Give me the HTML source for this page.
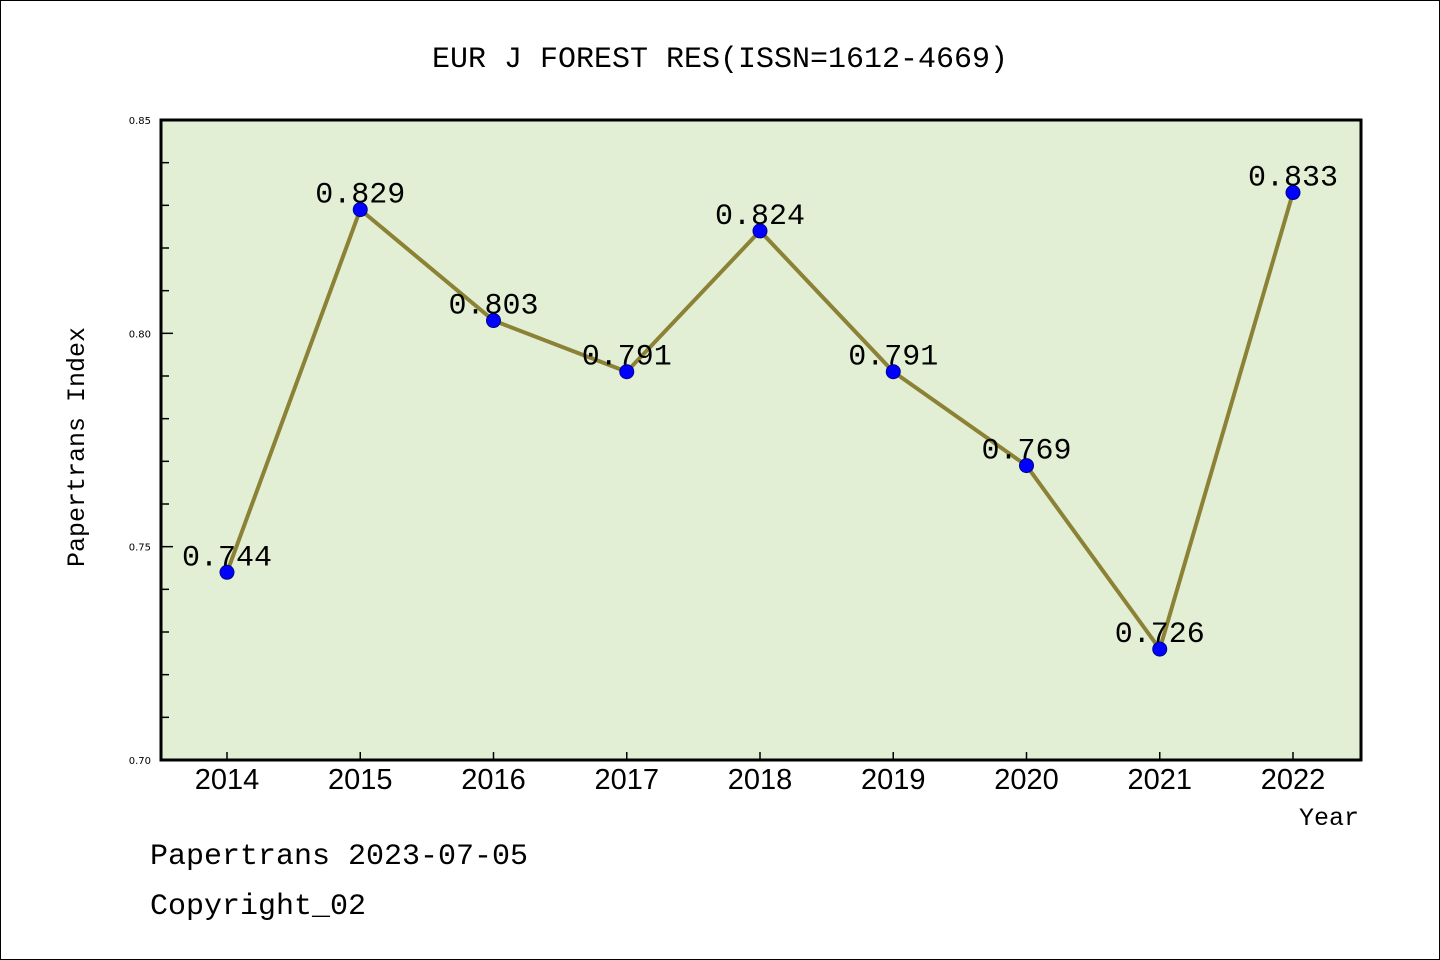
<!DOCTYPE html>
<html><head><meta charset="utf-8"><style>
html,body{margin:0;padding:0;background:#fff}
svg{display:block}
</style></head><body>
<svg width="1440" height="960" xmlns="http://www.w3.org/2000/svg">
<rect x="0.5" y="0.5" width="1439" height="959" fill="#fff" stroke="#000"/>
<text x="720" y="67" text-anchor="middle" font-family="Liberation Mono, WenQuanYi Zen Hei, monospace" font-size="30">EUR J FOREST RES(ISSN=1612-4669)</text>
<rect x="161" y="120" width="1200" height="640" fill="#e2efd5"/>
<g id="axes"></g>
<g id="marks"></g>
<rect x="161" y="120" width="1200" height="640" fill="none" stroke="#000" stroke-width="3"/>
<text transform="translate(84,447) rotate(-90)" text-anchor="middle" font-family="Liberation Mono, monospace" font-size="25">Papertrans Index</text>
<text x="1359" y="825" text-anchor="end" font-family="Liberation Mono, monospace" font-size="25">Year</text>
<text x="150" y="864" font-family="Liberation Mono, monospace" font-size="30">Papertrans 2023-07-05</text>
<text x="150" y="914" font-family="Liberation Mono, monospace" font-size="30">Copyright_02</text>
</svg>
<script>
const years = ["2014","2015","2016","2017","2018","2019","2020","2021","2022"];
const values = [0.744,0.829,0.803,0.791,0.824,0.791,0.769,0.726,0.833];
const yTickLabels = ["0.70","0.75","0.80","0.85"];
const NS="http://www.w3.org/2000/svg";
const yMin=0.70,yMax=0.85,plotTop=120,plotBot=760;
const xPos=i=>227+i*133.25;
const yPos=v=>plotBot-(v-yMin)/(yMax-yMin)*(plotBot-plotTop);
function mk(tag,attrs,parent){const e=document.createElementNS(NS,tag);for(const k in attrs)e.setAttribute(k,attrs[k]);parent.appendChild(e);return e;}
const axes=document.getElementById('axes'),marks=document.getElementById('marks');
for(let k=0;k<=15;k++){const v=yMin+k*0.01;const y=yPos(v);const major=k%5===0;
 const t=mk('line',{x1:161,x2:major?173:169,y1:y,y2:y,stroke:'#000','stroke-width':1.5},axes);
 
 }
yTickLabels.forEach(s=>{const y=yPos(parseFloat(s));
 const t=mk('text',{x:151,y:y+4,'text-anchor':'end','font-family':'DejaVu Sans, sans-serif','font-size':10},axes);t.textContent=s;
 
 });
years.forEach((yr,i)=>{const x=xPos(i);
 const t=mk('line',{x1:x,x2:x,y1:plotBot,y2:plotBot-8,stroke:'#000','stroke-width':1.5},axes);
 
 
 const l=mk('text',{x:x,y:789,'text-anchor':'middle','font-family':'Liberation Sans, sans-serif','font-size':29},axes);l.textContent=yr;
 
 });
const pl=mk('polyline',{points:values.map((v,i)=>xPos(i)+','+yPos(v)).join(' '),fill:'none',stroke:'#8b8235','stroke-width':4},marks);


values.forEach((v,i)=>{const x=xPos(i),y=yPos(v);
 const c=mk('circle',{cx:x,cy:y,r:7,fill:'#0000ff',stroke:'#00008b','stroke-width':1},marks);
 
 
 const t=mk('text',{x:x,y:y-7,'text-anchor':'middle','font-family':'Liberation Mono, monospace','font-size':30},marks);t.textContent=v.toFixed(3);
 
 });
</script>
</body></html>
